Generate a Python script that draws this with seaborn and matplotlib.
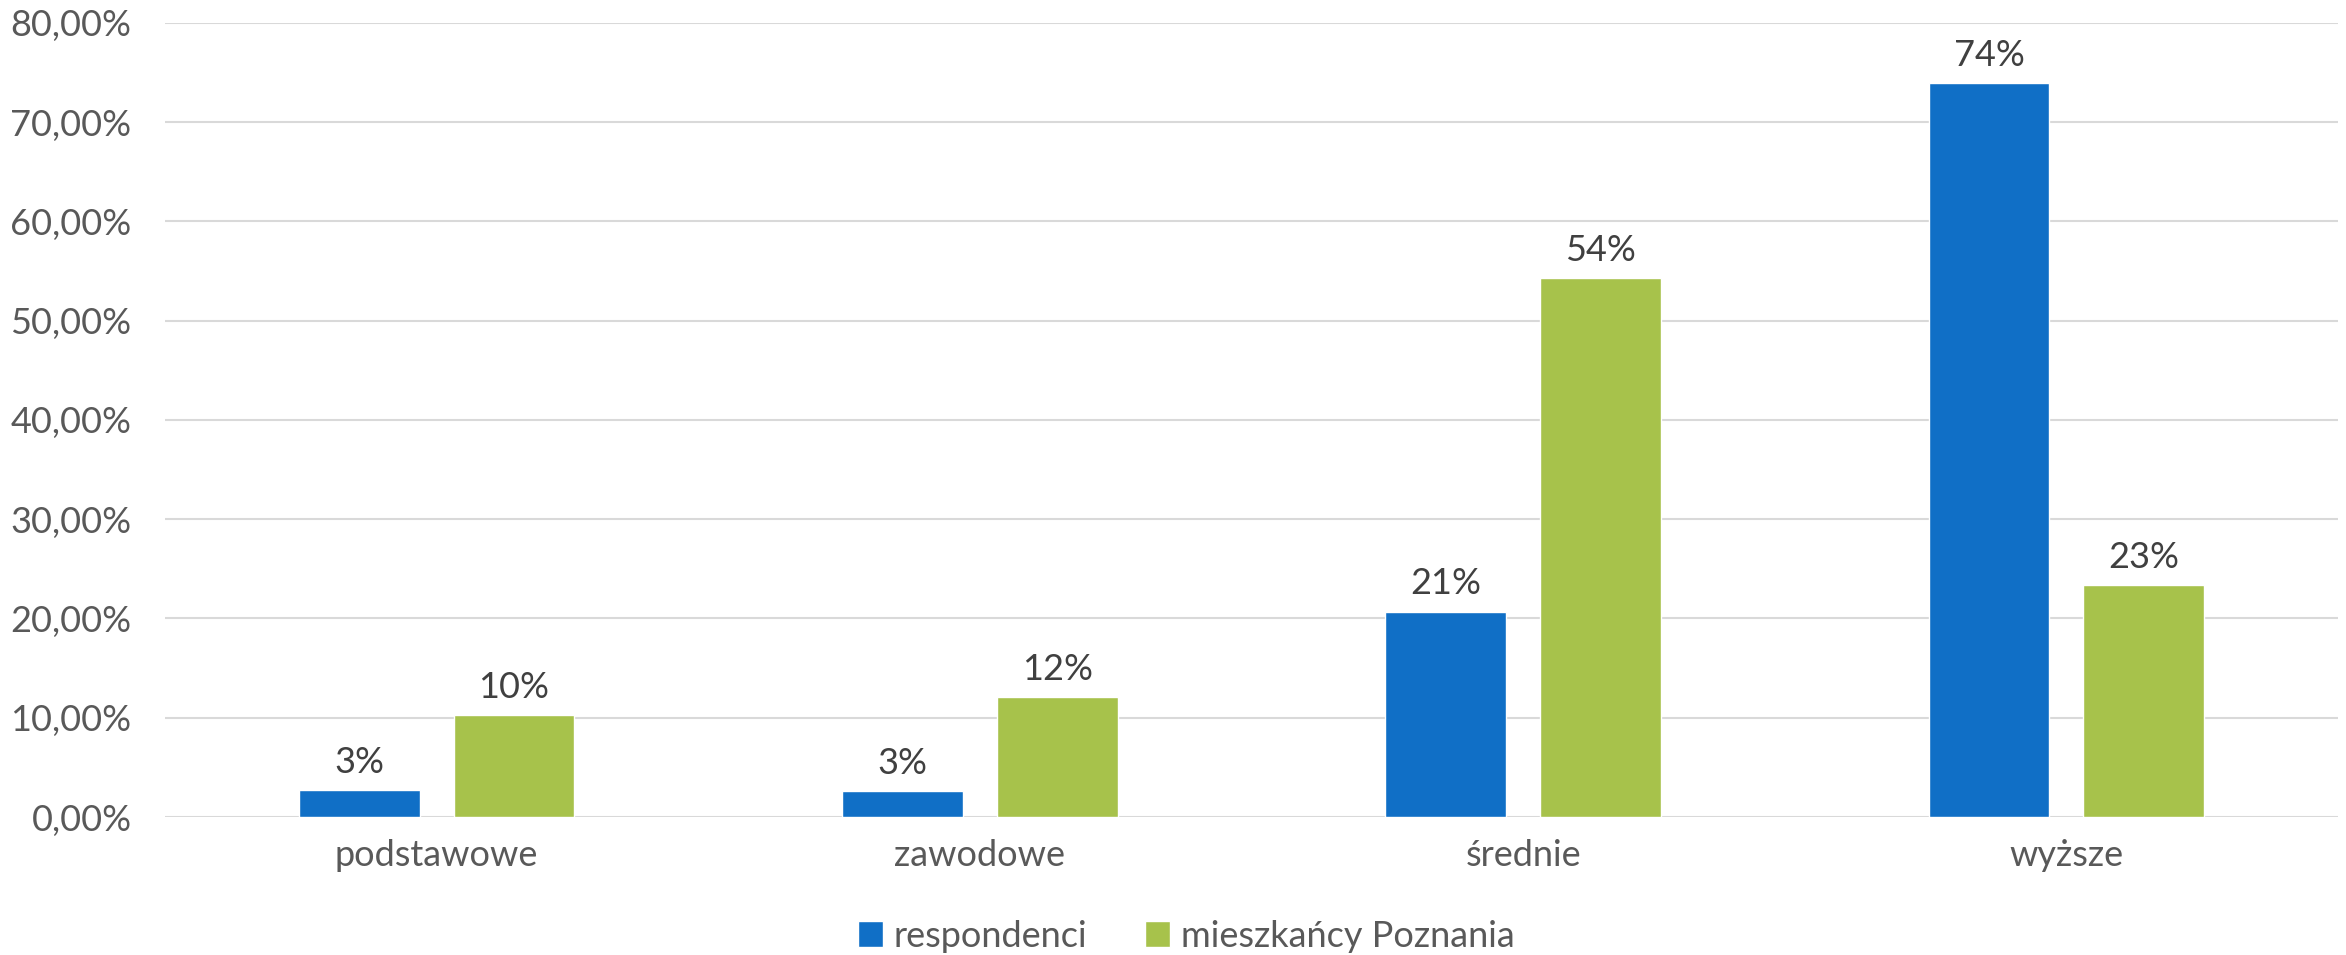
import pandas as pd
import matplotlib.pyplot as plt
import seaborn as sns
from matplotlib.ticker import FuncFormatter

# --- DATOS ---
categorias = ["podstawowe", "zawodowe", "średnie", "wyższe"]
respondenci = [2.7, 2.6, 20.7, 73.9]
mieszkancy = [10.3, 12.1, 54.3, 23.4]
series = ["respondenci", "mieszkańcy Poznania"]
colores = ["#106FC6", "#A7C24B"]

df = pd.DataFrame({
    "kategoria": categorias * 2,
    "seria": [series[0]] * 4 + [series[1]] * 4,
    "wartosc": [v / 100 for v in respondenci + mieszkancy],
})

sns.set_style("white")
plt.rcParams["font.family"] = ["Lato", "DejaVu Sans"]

fig = plt.figure(figsize=(23.46, 9.55), dpi=100)
ax = fig.add_axes([0.0703, 0.1445, 0.9263, 0.8315])

sns.barplot(data=df, x="kategoria", y="wartosc", hue="seria", palette=colores,
            width=0.57, gap=0.22, saturation=1, ax=ax, errorbar=None)

ax.set_ylim(0, 0.8)
ax.set_xlim(-0.5, 3.5)
ax.set_yticks([i / 10 for i in range(9)])
ax.yaxis.set_major_formatter(FuncFormatter(lambda v, p: f"{v * 100:.2f}%".replace(".", ",")))
ax.grid(axis="y", color="#D9D9D9", linewidth=1.5)
ax.set_axisbelow(True)
for s in ax.spines.values():
    s.set_visible(False)
ax.tick_params(axis="both", length=0, labelsize=26, colors="#595959")
ax.tick_params(axis="y", pad=24)
ax.tick_params(axis="x", pad=16)
ax.set_xlabel("")
ax.set_ylabel("")

# etiquetas de valores
for cont in ax.containers:
    ax.bar_label(cont, labels=[f"{b.get_height() * 100:.0f}%" for b in cont],
                 padding=8, fontsize=26, color="#404040")

ax.legend(loc="center", bbox_to_anchor=(0.47, -0.15), ncol=2, frameon=False,
          fontsize=26, labelcolor="#595959", handlelength=0.7, handleheight=0.7,
          handletextpad=0.3, columnspacing=1.6)

fig.savefig("out.png", dpi=100)
plt.close(fig)
